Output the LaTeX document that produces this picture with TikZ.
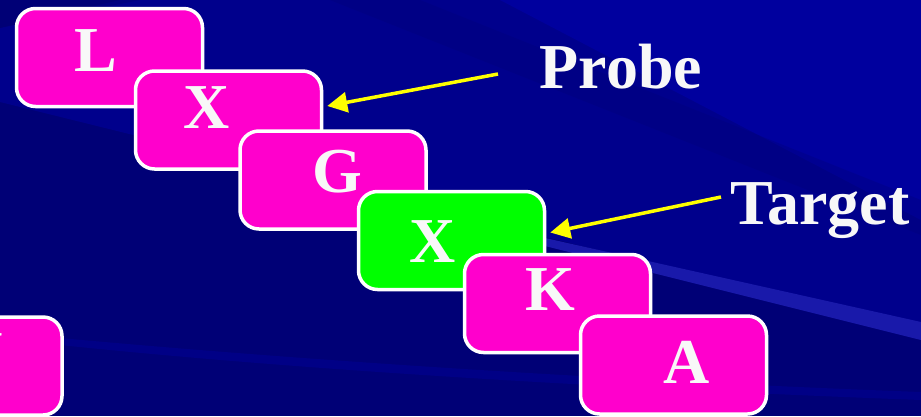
\documentclass[tikz,border=0pt]{standalone}
\usepackage{fontspec}
\setmainfont{Liberation Serif}
\usetikzlibrary{arrows.meta}
\definecolor{navy}{RGB}{0,0,118}
\definecolor{navylight}{RGB}{0,0,140}
\definecolor{navymid}{RGB}{0,0,158}
\definecolor{streak}{RGB}{25,25,170}
\definecolor{tilemag}{RGB}{255,0,204}
\definecolor{tilegreen}{RGB}{0,255,0}
\definecolor{arrowyellow}{RGB}{255,255,0}
\definecolor{textwhite}{RGB}{248,248,248}
\tikzset{
  tile/.style={draw=white, line width=3.5pt, rounded corners=19pt, fill=tilemag,
    minimum width=186pt, minimum height=98pt, inner sep=0pt},
  tilehi/.style={tile, fill=tilegreen},
  letter/.style={text=textwhite, font=\fontsize{64}{64}\selectfont\bfseries, inner sep=0pt, anchor=base},
  pointer/.style={draw=arrowyellow, line width=3.5pt, -{Triangle[length=20pt,width=20pt]}}
}
\begin{document}
\begin{tikzpicture}[x=1pt,y=-1pt]
\useasboundingbox (0,0) rectangle (921,416);
\clip (0,0) rectangle (921,416);
% background
\fill[navy] (0,0) rectangle (921,416);
\fill[navylight] (0,28) -- (0,102) -- (921,330) -- (921,0) -- (120,0) -- cycle;
\fill[navymid] (500,0) -- (921,0) -- (921,220) -- cycle;
\fill[navy, opacity=0.3] (330,0) -- (420,0) -- (921,200) -- (921,235) -- cycle;
\fill[navy, opacity=0.5] (0,0) -- (140,0) -- (0,28) -- cycle;
\fill[streak] (545,238) -- (921,322) -- (921,340) -- (545,246) -- cycle;
\fill[navymid, opacity=0.4] (60,338) .. controls (300,360) and (600,380) .. (921,392) -- (921,400) .. controls (600,388) and (300,370) .. (60,345) -- cycle;
% tiles
\node[tile] (bL) at (109.5,57.5) {};
\node[letter] (tL) at (96,71) {L};
\node[tile] (bX1) at (228.5,120) {};
\node[letter] (tX1) at (207,128) {X};
\node[tile] (bG) at (333,180) {};
\node[letter] (tG) at (337,192) {G};
\node[tilehi] (bX2) at (451.5,240.5) {};
\node[letter] (tX2) at (433,262) {X};
\node[tile] (bK) at (557.5,303.5) {};
\node[letter] (tK) at (550,310) {K};
\node[tile] (bA) at (673.5,365) {};
\node[letter] (tA) at (687,383) {A};
\node[tile] (bV) at (-31,366) {};
\node[letter] (tV) at (-20,375) {V};
% labels
\node[letter] (probe) at (621,88) {Probe};
\node[letter] (target) at (820,224) {Target};
\coordinate (probeStart) at (498,74);
\coordinate (targetStart) at (721,197);
\draw[pointer] (probeStart) -- ([xshift=4pt,yshift=14pt]bX1.east);
\draw[pointer] (targetStart) -- ([xshift=4pt,yshift=8pt]bX2.east);
\end{tikzpicture}
\end{document}
